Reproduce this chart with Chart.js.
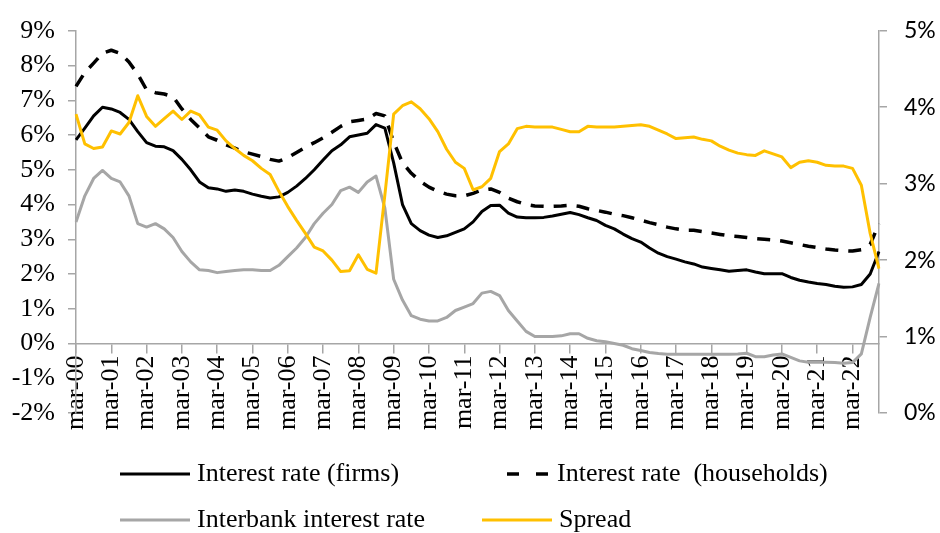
<!DOCTYPE html>
<html>
<head>
<meta charset="utf-8">
<script src="https://cdn.jsdelivr.net/npm/chart.js@4.4.1/dist/chart.umd.min.js"></script>
<style>
  html, body { margin:0; padding:0; background:#fff; }
  #wrap { position:relative; width:940px; height:533px; overflow:hidden; }
  canvas { position:absolute; left:0; top:0; }
  .lg { position:absolute; font-family:"Liberation Serif","Times New Roman",serif; font-size:26px; color:#000; white-space:pre; line-height:30px; }
</style>
</head>
<body>
<div id="wrap">
  <canvas id="c" width="940" height="533"></canvas>
</div>
<script>
// ---- Data (quarterly, mar-00 .. dec-22) ----
const months = ['mar','jun','sep','dec'];
const years = ['00','01','02','03','04','05','06','07','08','09','10','11','12','13','14','15','16','17','18','19','20','21','22'];
const categories = [];
years.forEach(y => months.forEach(m => categories.push(m + '-' + y)));

const firms = [
  5.86,6.2,6.55,6.8, 6.75,6.65,6.45,6.1, 5.78,5.68,5.66,5.55, 5.3,5.0,4.65,4.48,
  4.45,4.38,4.42,4.38, 4.3,4.24,4.19,4.22, 4.35,4.53,4.75,5.0, 5.28,5.55,5.72,5.95,
  6.0,6.05,6.3,6.2, 5.2,4.0,3.45,3.25, 3.12,3.05,3.1,3.2, 3.3,3.5,3.8,3.97,
  3.98,3.75,3.64,3.62, 3.62,3.63,3.67,3.72, 3.77,3.71,3.62,3.54, 3.4,3.3,3.15,3.02,
  2.92,2.75,2.6,2.5, 2.43,2.35,2.29,2.2, 2.16,2.12,2.08,2.1, 2.12,2.06,2.01,2.01,
  2.01,1.9,1.82,1.77, 1.73,1.70,1.65,1.62, 1.63,1.70,2.0,2.65
];
const households = [
  7.4,7.8,8.07,8.35, 8.44,8.35,8.1,7.75, 7.3,7.22,7.18,7.1, 6.75,6.45,6.2,5.95,
  5.85,5.72,5.62,5.52, 5.45,5.38,5.3,5.25, 5.35,5.5,5.65,5.78, 5.92,6.08,6.25,6.38,
  6.42,6.46,6.62,6.55, 5.8,5.2,4.9,4.67, 4.5,4.38,4.3,4.25, 4.25,4.32,4.42,4.45,
  4.35,4.18,4.08,4.0, 3.96,3.95,3.95,3.96, 3.98,3.95,3.88,3.83, 3.78,3.72,3.68,3.62,
  3.55,3.48,3.42,3.35, 3.3,3.26,3.26,3.22, 3.18,3.14,3.1,3.08, 3.05,3.02,3.0,2.98,
  2.95,2.9,2.85,2.8, 2.76,2.72,2.69,2.67, 2.66,2.7,2.85,3.45
];
const interbank = [
  3.5,4.25,4.75,4.98, 4.75,4.65,4.25,3.45, 3.35,3.45,3.3,3.05, 2.65,2.35,2.12,2.1,
  2.04,2.07,2.1,2.12, 2.12,2.1,2.1,2.25, 2.5,2.75,3.05,3.45, 3.75,4.0,4.4,4.5,
  4.35,4.65,4.82,3.9, 1.85,1.25,0.8,0.7, 0.65,0.65,0.75,0.95, 1.05,1.15,1.45,1.5,
  1.38,0.95,0.65,0.35, 0.2,0.2,0.2,0.22, 0.28,0.28,0.15,0.08, 0.05,0.0,-0.05,-0.15,
  -0.2,-0.26,-0.29,-0.31, -0.31,-0.31,-0.31,-0.31, -0.31,-0.31,-0.31,-0.3, -0.28,-0.38,-0.38,-0.33,
  -0.3,-0.4,-0.5,-0.54, -0.54,-0.54,-0.55,-0.57, -0.55,-0.3,0.75,1.73
];
const spread = [
  3.91,3.52,3.46,3.48, 3.69,3.65,3.8,4.15, 3.88,3.75,3.85,3.95, 3.84,3.95,3.9,3.74,
  3.7,3.56,3.46,3.37, 3.3,3.2,3.12,2.9, 2.7,2.52,2.35,2.17, 2.12,2.0,1.85,1.86,
  2.07,1.88,1.83,2.85, 3.91,4.02,4.07,3.98, 3.85,3.68,3.45,3.28, 3.2,2.92,2.96,3.07,
  3.42,3.52,3.72,3.75, 3.74,3.74,3.74,3.71, 3.68,3.68,3.75,3.74, 3.74,3.74,3.75,3.76,
  3.77,3.75,3.7,3.65, 3.59,3.6,3.61,3.58, 3.56,3.49,3.44,3.4, 3.38,3.37,3.43,3.39,
  3.35,3.21,3.28,3.3, 3.28,3.24,3.23,3.23, 3.2,2.98,2.35,1.89
];
const leftTicks = { min:-2, max:9, step:1 };
const rightTicks = { min:0, max:5, step:1 };
const seriesNames = ['Interest rate (firms)', 'Interest rate  (households)', 'Interbank interest rate', 'Spread'];

// ---- Styles ----
const AXIS = '#a6a6a6';
const SERIF = '"Liberation Serif","Times New Roman",serif';
const styles = [
  { color:'#000000', width:3, dash:[] },
  { color:'#000000', width:3.5, dash:[13,10] },
  { color:'#a6a6a6', width:3, dash:[] },
  { color:'#ffc000', width:3, dash:[] }
];

const chart = new Chart(document.getElementById('c'), {
  type:'line',
  data:{
    labels: categories,
    datasets:[
      { label:seriesNames[0], data:firms, yAxisID:'y', borderColor:styles[0].color, borderWidth:styles[0].width, borderDash:styles[0].dash, order:3 },
      { label:seriesNames[1], data:households, yAxisID:'y', borderColor:styles[1].color, borderWidth:styles[1].width, borderDash:styles[1].dash, order:2 },
      { label:seriesNames[2], data:interbank, yAxisID:'y', borderColor:styles[2].color, borderWidth:styles[2].width, borderDash:styles[2].dash, order:4 },
      { label:seriesNames[3], data:spread, yAxisID:'y1', borderColor:styles[3].color, borderWidth:styles[3].width, borderDash:styles[3].dash, order:1 }
    ]
  },
  options:{
    responsive:false,
    animation:false,
    devicePixelRatio:1,
    layout:{ padding:{ left:0, right:0, top:25, bottom:120 } },
    elements:{ point:{ radius:0 }, line:{ tension:0, borderCapStyle:'butt', borderJoinStyle:'round' } },
    plugins:{ legend:{ display:false }, tooltip:{ enabled:false } },
    scales:{
      x:{
        type:'category',
        position:{ y:0 },
        offset:false,
        grid:{ display:true, drawOnChartArea:false, drawTicks:true, tickLength:9, color:AXIS, lineWidth:1.5 },
        border:{ display:true, color:AXIS, width:1.5 },
        ticks:{
          autoSkip:false, minRotation:90, maxRotation:90, padding:3,
          color:'#000', font:{ family:SERIF, size:26 },
          callback:function(v, i){ return (i % 4 === 0) ? this.getLabelForValue(v) : null; }
        }
      },
      y:{
        position:'left',
        min:leftTicks.min, max:leftTicks.max,
        afterFit:s => { s.width = 76; },
        grid:{ drawOnChartArea:false, drawTicks:true, tickLength:8, color:AXIS, lineWidth:1.5 },
        border:{ display:true, color:AXIS, width:1.5 },
        ticks:{ stepSize:leftTicks.step, padding:13, color:'#000', font:{ family:SERIF, size:26 }, callback:v => v + '%' }
      },
      y1:{
        position:'right',
        min:rightTicks.min, max:rightTicks.max,
        afterFit:s => { s.width = 61; },
        grid:{ drawOnChartArea:false, drawTicks:true, tickLength:8, color:AXIS, lineWidth:1.5 },
        border:{ display:true, color:AXIS, width:1.5 },
        ticks:{ stepSize:rightTicks.step, padding:17, color:'#000', font:{ family:'Lato, "Open Sans", sans-serif', size:23 }, callback:v => v + '%' }
      }
    }
  }
});

// ---- HTML legend ----
const legendPos = [
  { x:120, y:474, len:70, dash:null }, { x:507, y:474, len:43, dash:'12,17' },
  { x:120, y:520, len:70, dash:null }, { x:482, y:520, len:70, dash:null }
];
const wrap = document.getElementById('wrap');
seriesNames.forEach((name, i) => {
  const p = legendPos[i], st = styles[i];
  const svg = document.createElementNS('http://www.w3.org/2000/svg','svg');
  svg.setAttribute('width', p.len); svg.setAttribute('height', 10);
  svg.style.position = 'absolute'; svg.style.left = p.x + 'px'; svg.style.top = (p.y - 5) + 'px';
  const ln = document.createElementNS('http://www.w3.org/2000/svg','line');
  ln.setAttribute('x1', 0); ln.setAttribute('x2', p.len); ln.setAttribute('y1', 5); ln.setAttribute('y2', 5);
  ln.setAttribute('stroke', st.color); ln.setAttribute('stroke-width', st.width);
  if (p.dash) ln.setAttribute('stroke-dasharray', p.dash);
  svg.appendChild(ln); wrap.appendChild(svg);
  const t = document.createElement('div');
  t.className = 'lg'; t.textContent = name;
  t.style.left = (p.x + p.len + 7) + 'px'; t.style.top = (p.y - 16) + 'px';
  wrap.appendChild(t);
});
</script>
</body>
</html>
